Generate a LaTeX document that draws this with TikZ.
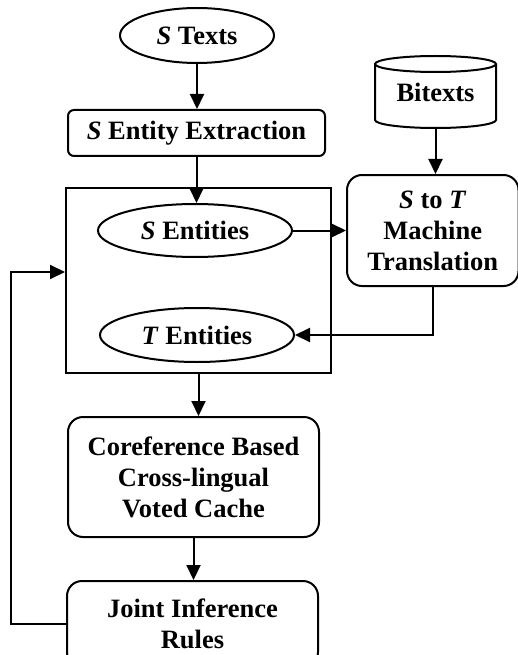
\documentclass[tikz,border=0pt]{standalone}
\usepackage{fontspec}
\setmainfont{Liberation Serif}
\usetikzlibrary{arrows.meta,shapes.geometric,calc}
\begin{document}
\begin{tikzpicture}[x=1pt,y=-1pt,
  every node/.style={font=\fontsize{26.5}{31}\selectfont\bfseries, inner sep=0pt, align=center},
  ell/.style={draw, ellipse, line width=2pt},
  rbox/.style={draw, rectangle, line width=2pt},
  conn/.style={line width=2pt, -{Triangle[length=15pt,width=14pt]}},
  line/.style={line width=2pt}]
\useasboundingbox (0,0) rectangle (518,655);
% big container
\node[rbox, minimum width=265pt, minimum height=185pt] (big) at (198.5,280.5) {};
% nodes
\node[ell, minimum width=154pt, minimum height=55pt] (stexts) at (197,35.5) {\textit{S} Texts};
\node[rbox, rounded corners=6pt, minimum width=257pt, minimum height=46pt] (extr) at (196.5,133) {\textit{S} Entity Extraction};
\node[minimum width=121pt, minimum height=72pt] (bitexts) at (435.5,92) {\raisebox{-3pt}{Bitexts}};
\draw[line] (375,64) -- (375,120) arc[start angle=180,end angle=360,x radius=60.5pt,y radius=8pt] -- (496,64);
\draw[line] (435.5,64) ellipse[x radius=60.5pt, y radius=8pt];
\node[ell, minimum width=194pt, minimum height=53pt] (sent) at (195,230.5) {\textit{S} Entities};
\node[rbox, rounded corners=15pt, minimum width=171.5pt, minimum height=111pt] (mt) at (432.75,230.5) {\textit{S} to \textit{T}\\Machine\\Translation};
\node[ell, minimum width=194pt, minimum height=54pt] (tent) at (197,335) {\textit{T} Entities};
\node[rbox, rounded corners=15pt, minimum width=251pt, minimum height=120pt] (coref) at (193.5,477) {Coreference Based\\Cross-lingual\\Voted Cache};
\node[rbox, rounded corners=15pt, minimum width=251pt, minimum height=86pt] (joint) at (192.5,624) {Joint Inference\\Rules};
\coordinate (loopA) at (11,624);
\coordinate (loopB) at (11,272);
% connectors
\draw[conn] (stexts.south) -- (stexts.south |- extr.north);
\draw[conn] (extr.south) -- (extr.south |- sent.north);
\draw[conn] (bitexts.south) -- (bitexts.south |- mt.north);
\draw[conn] (sent.east) -- (mt.west |- sent.east);
\draw[conn] (mt.south) |- (tent.east);
\draw[conn] (big.south) -- (big.south |- coref.north);
\draw[conn] (coref.south) -- (coref.south |- joint.north);
\draw[conn] (joint.west) -- (loopA) -- (loopB) -- (big.west |- loopB);
\end{tikzpicture}
\end{document}
